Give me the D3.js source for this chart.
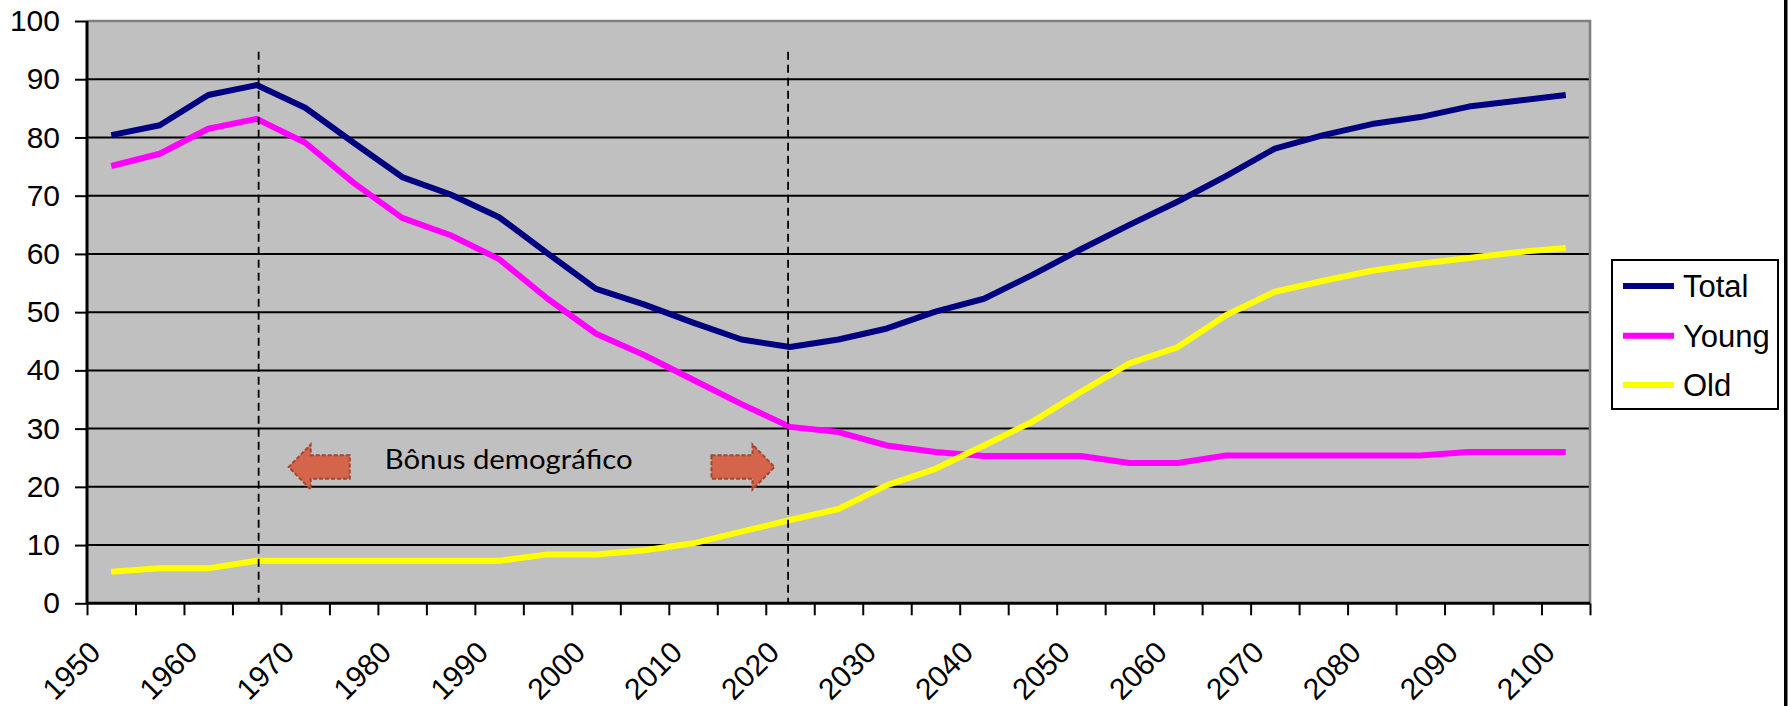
<!DOCTYPE html>
<html>
<head>
<meta charset="utf-8">
<script src="https://cdn.jsdelivr.net/npm/d3@7"></script>
<style>
  html, body { margin: 0; padding: 0; background: #ffffff; }
  svg { display: block; }
</style>
</head>
<body>
<svg id="chart" width="1790" height="706"></svg>
<script>
// Dependency ratios (per 100 people of working age), 5-year steps
const years = [1950, 1955, 1960, 1965, 1970, 1975, 1980, 1985, 1990, 1995,
               2000, 2005, 2010, 2015, 2020, 2025, 2030, 2035, 2040, 2045,
               2050, 2055, 2060, 2065, 2070, 2075, 2080, 2085, 2090, 2095, 2100];
const total = [80.4, 82.1, 87.3, 89.0, 85.1, 79.1, 73.2, 70.2, 66.3, 60.1,
               54.0, 51.3, 48.2, 45.3, 44.0, 45.3, 47.2, 50.1, 52.3, 56.4,
               60.8, 65.0, 69.0, 73.4, 78.1, 80.4, 82.3, 83.5, 85.3, 86.3, 87.3];
const young = [75.1, 77.2, 81.5, 83.2, 79.1, 72.2, 66.2, 63.2, 59.1, 52.3,
               46.3, 42.6, 38.4, 34.2, 30.3, 29.4, 27.1, 26.0, 25.3, 25.3,
               25.3, 24.1, 24.1, 25.4, 25.4, 25.4, 25.4, 25.4, 26.0, 26.0, 26.0];
const old   = [5.4, 6.0, 6.0, 7.3, 7.3, 7.3, 7.3, 7.3, 7.3, 8.4,
               8.4, 9.1, 10.3, 12.3, 14.3, 16.2, 20.3, 23.1, 27.1, 31.2,
               36.3, 41.2, 44.0, 49.5, 53.5, 55.4, 57.1, 58.3, 59.3, 60.3, 61.0];

const seriesNames  = ["Total", "Young", "Old"];
const seriesColors = ["#000080", "#FF00FF", "#FFFF00"];
const seriesValues = [total, young, old];

const yTicks = [0, 10, 20, 30, 40, 50, 60, 70, 80, 90, 100];
const xTickLabels = ["1950", "1960", "1970", "1980", "1990", "2000", "2010", "2020",
                     "2030", "2040", "2050", "2060", "2070", "2080", "2090", "2100"];

// Demographic bonus window: dashed markers and arrows (year, value units)
const markerYears = [1965.2, 2019.8];
const markerTop = 94.7;
const bonusLabel = "Bônus demográfico";
const bonusLabelPos = { year: 1978.2, value: 23.1 };
const bonusArrows = [
  { tail: 1974.6, tip: 1968.3, value: 23.4 },
  { tail: 2011.9, tip: 2018.4, value: 23.4 }
];

// ---- layout ----
const plot = { left: 87, right: 1590, top: 21, bottom: 603.3 };
const svg = d3.select("#chart");

const x = d3.scaleBand().domain(years).range([plot.left, plot.right]).paddingInner(0).paddingOuter(0);
const bw = x.bandwidth();
const xc = yr => x(yr) + bw / 2;
const step = years[1] - years[0];
const xYear = d3.scaleLinear()
  .domain([years[0] - step / 2, years[years.length - 1] + step / 2])
  .range([plot.left, plot.right]);
const y = d3.scaleLinear().domain([0, 100]).range([plot.bottom, plot.top]);

// plot background
svg.append("rect")
  .attr("x", plot.left).attr("y", plot.top)
  .attr("width", plot.right - plot.left).attr("height", plot.bottom - plot.top)
  .attr("fill", "#C0C0C0");

// horizontal gridlines
svg.append("g").selectAll("line")
  .data(yTicks.filter(t => t > 0 && t < 100))
  .join("line")
  .attr("x1", plot.left).attr("x2", plot.right)
  .attr("y1", d => y(d)).attr("y2", d => y(d))
  .attr("stroke", "#000").attr("stroke-width", 2);

// plot border (top/right)
svg.append("path")
  .attr("d", `M${plot.left},${plot.top}H${plot.right}V${plot.bottom}`)
  .attr("fill", "none").attr("stroke", "#808080").attr("stroke-width", 2.6);

// series lines
const line = d3.line()
  .x((d, i) => xc(years[i]))
  .y(d => y(d));

svg.append("g").selectAll("path")
  .data(seriesValues)
  .join("path")
  .attr("d", d => line(d))
  .attr("fill", "none")
  .attr("stroke", (d, i) => seriesColors[i])
  .attr("stroke-width", 6)
  .attr("stroke-linejoin", "round")
  .attr("stroke-linecap", "butt");

// dashed markers
svg.append("g").selectAll("line")
  .data(markerYears)
  .join("line")
  .attr("x1", d => xYear(d)).attr("x2", d => xYear(d))
  .attr("y1", y(markerTop)).attr("y2", y(0))
  .attr("stroke", "#000").attr("stroke-width", 1.8)
  .attr("stroke-dasharray", "8,5");

// arrows
const shaftHalf = 11.7, headHalf = 22.5, headLen = 22;
function arrowPath(a) {
  const x0 = xYear(a.tail), x1 = xYear(a.tip), cy = y(a.value);
  const dir = Math.sign(x1 - x0);
  const xb = x1 - dir * headLen;
  return `M${x0},${cy - shaftHalf}L${xb},${cy - shaftHalf}L${xb},${cy - headHalf}` +
         `L${x1},${cy}L${xb},${cy + headHalf}L${xb},${cy + shaftHalf}L${x0},${cy + shaftHalf}Z`;
}
svg.append("g").selectAll("path")
  .data(bonusArrows)
  .join("path")
  .attr("d", arrowPath)
  .attr("fill", "#D4644A")
  .attr("stroke", "#A3452F")
  .attr("stroke-width", 2)
  .attr("stroke-dasharray", "4,2");

svg.append("text")
  .attr("x", xYear(bonusLabelPos.year))
  .attr("y", y(bonusLabelPos.value))
  .attr("font-family", "Lato, 'Open Sans', sans-serif")
  .attr("font-size", 27)
  .attr("fill", "#000")
  .attr("textLength", 248)
  .attr("lengthAdjust", "spacingAndGlyphs")
  .text(bonusLabel);

// y axis
const yAxis = d3.axisLeft(y).tickValues(yTicks).tickSize(12).tickPadding(15).tickFormat(d3.format("d"));
const gy = svg.append("g").attr("transform", `translate(${plot.left},0)`).call(yAxis);
gy.select(".domain").attr("stroke", "#000").attr("stroke-width", 3)
  .attr("d", `M0,${plot.top}V${plot.bottom}`);
gy.selectAll(".tick line").attr("stroke", "#000").attr("stroke-width", 2);
gy.selectAll(".tick text")
  .attr("font-family", "'Liberation Sans', Arial, sans-serif")
  .attr("font-size", 30).attr("fill", "#000");

// x axis: tick marks at category boundaries
const boundaries = years.map(yr => yr - step / 2).concat([years[years.length - 1] + step / 2]);
const xAxis = d3.axisBottom(xYear).tickValues(boundaries).tickSize(12).tickFormat("");
const gx = svg.append("g").attr("transform", `translate(0,${plot.bottom})`).call(xAxis);
gx.select(".domain").attr("stroke", "#000").attr("stroke-width", 3)
  .attr("d", `M${plot.left},0H${plot.right}`);
gx.selectAll(".tick line").attr("stroke", "#000").attr("stroke-width", 2);

// x labels, rotated
svg.append("g").selectAll("text")
  .data(xTickLabels)
  .join("text")
  .attr("transform", d => {
    const px = xc(+d) - 9, py = plot.bottom + 51;
    return `translate(${px},${py}) rotate(-45)`;
  })
  .attr("text-anchor", "end")
  .attr("font-family", "'Liberation Sans', Arial, sans-serif")
  .attr("font-size", 30)
  .attr("fill", "#000")
  .text(d => d);

// legend
const legend = { x: 1612, y: 260, w: 166, h: 149, rowY: [286, 335.7, 385] };
const lg = svg.append("g");
lg.append("rect")
  .attr("x", legend.x).attr("y", legend.y)
  .attr("width", legend.w).attr("height", legend.h)
  .attr("fill", "#fff").attr("stroke", "#000").attr("stroke-width", 2);
const rows = lg.selectAll("g.row").data(seriesNames).join("g").attr("class", "row");
rows.append("line")
  .attr("x1", legend.x + 11).attr("x2", legend.x + 62)
  .attr("y1", (d, i) => legend.rowY[i]).attr("y2", (d, i) => legend.rowY[i])
  .attr("stroke", (d, i) => seriesColors[i]).attr("stroke-width", 6);
rows.append("text")
  .attr("x", legend.x + 71)
  .attr("y", (d, i) => legend.rowY[i])
  .attr("dy", "0.36em")
  .attr("font-family", "'Liberation Sans', Arial, sans-serif")
  .attr("font-size", 31)
  .attr("fill", "#000")
  .text(d => d);

// right-hand frame line
svg.append("rect")
  .attr("x", 1784).attr("y", 0).attr("width", 3.5).attr("height", 706)
  .attr("fill", "#000");
</script>
</body>
</html>
